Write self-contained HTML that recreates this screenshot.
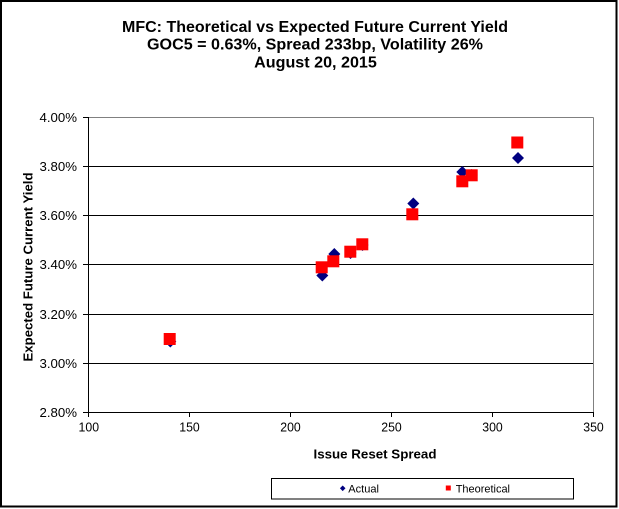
<!DOCTYPE html>
<html>
<head>
<meta charset="utf-8">
<style>
  html, body { margin: 0; padding: 0; background: #ffffff; }
  body { width: 619px; height: 509px; overflow: hidden; }
  svg { display: block; }
  text { font-family: "Liberation Sans", Arial, sans-serif; fill: #000; }
</style>
</head>
<body>
<svg width="619" height="509" viewBox="0 0 619 509" xmlns="http://www.w3.org/2000/svg">
  <rect x="0" y="0" width="619" height="509" fill="#ffffff"/>
  <!-- outer border -->
  <rect x="1" y="1" width="615.5" height="505.5" fill="none" stroke="#000" stroke-width="2"/>

  <!-- title -->
  <text x="315" y="32" font-size="16" font-weight="bold" text-anchor="middle" textLength="386" lengthAdjust="spacingAndGlyphs">MFC: Theoretical vs Expected Future Current Yield</text>
  <text x="315" y="49.5" font-size="16" font-weight="bold" text-anchor="middle" textLength="336" lengthAdjust="spacingAndGlyphs">GOC5 = 0.63%, Spread 233bp, Volatility 26%</text>
  <text x="315.5" y="67.7" font-size="16" font-weight="bold" text-anchor="middle" textLength="122.7" lengthAdjust="spacingAndGlyphs">August 20, 2015</text>

  <!-- plot area -->
  <rect x="88.5" y="117.5" width="505" height="295" fill="#ffffff"/>
  <!-- gridlines -->
  <g stroke="#000" stroke-width="1">
    <line x1="88" y1="166.5" x2="593.5" y2="166.5"/>
    <line x1="88" y1="215.5" x2="593.5" y2="215.5"/>
    <line x1="88" y1="264.5" x2="593.5" y2="264.5"/>
    <line x1="88" y1="314.5" x2="593.5" y2="314.5"/>
    <line x1="88" y1="363.5" x2="593.5" y2="363.5"/>
  </g>
  <!-- plot border top/right gray -->
  <line x1="88" y1="117.5" x2="593.5" y2="117.5" stroke="#808080" stroke-width="1"/>
  <line x1="593.5" y1="117.5" x2="593.5" y2="412.5" stroke="#808080" stroke-width="1"/>
  <!-- axes -->
  <g stroke="#000" stroke-width="1">
    <line x1="88.5" y1="117" x2="88.5" y2="413"/>
    <line x1="88" y1="412.5" x2="594" y2="412.5"/>
    <!-- y ticks -->
    <line x1="83" y1="117.5" x2="88.5" y2="117.5"/>
    <line x1="83" y1="166.5" x2="88.5" y2="166.5"/>
    <line x1="83" y1="215.5" x2="88.5" y2="215.5"/>
    <line x1="83" y1="264.5" x2="88.5" y2="264.5"/>
    <line x1="83" y1="314.5" x2="88.5" y2="314.5"/>
    <line x1="83" y1="363.5" x2="88.5" y2="363.5"/>
    <line x1="83" y1="412.5" x2="88.5" y2="412.5"/>
    <!-- x ticks -->
    <line x1="88.5" y1="412.5" x2="88.5" y2="417"/>
    <line x1="189.5" y1="412.5" x2="189.5" y2="417"/>
    <line x1="290.5" y1="412.5" x2="290.5" y2="417"/>
    <line x1="391.5" y1="412.5" x2="391.5" y2="417"/>
    <line x1="492.5" y1="412.5" x2="492.5" y2="417"/>
    <line x1="593.5" y1="412.5" x2="593.5" y2="417"/>
  </g>

  <!-- y tick labels -->
  <g font-size="13" text-anchor="end">
    <text x="77" y="122" textLength="37.5" lengthAdjust="spacingAndGlyphs">4.00%</text>
    <text x="77" y="171" textLength="37.5" lengthAdjust="spacingAndGlyphs">3.80%</text>
    <text x="77" y="220" textLength="37.5" lengthAdjust="spacingAndGlyphs">3.60%</text>
    <text x="77" y="269" textLength="37.5" lengthAdjust="spacingAndGlyphs">3.40%</text>
    <text x="77" y="319" textLength="37.5" lengthAdjust="spacingAndGlyphs">3.20%</text>
    <text x="77" y="368" textLength="37.5" lengthAdjust="spacingAndGlyphs">3.00%</text>
    <text x="77" y="417" textLength="37.5" lengthAdjust="spacingAndGlyphs">2.80%</text>
  </g>

  <!-- x tick labels -->
  <g font-size="13" text-anchor="middle">
    <text x="88.8" y="431.7" textLength="20.5" lengthAdjust="spacingAndGlyphs">100</text>
    <text x="189.5" y="431.7" textLength="20.5" lengthAdjust="spacingAndGlyphs">150</text>
    <text x="290.5" y="431.7" textLength="20.5" lengthAdjust="spacingAndGlyphs">200</text>
    <text x="391.5" y="431.7" textLength="20.5" lengthAdjust="spacingAndGlyphs">250</text>
    <text x="492.5" y="431.7" textLength="20.5" lengthAdjust="spacingAndGlyphs">300</text>
    <text x="593.5" y="431.7" textLength="20.5" lengthAdjust="spacingAndGlyphs">350</text>
  </g>

  <!-- axis titles -->
  <text x="375" y="458.3" font-size="13" font-weight="bold" text-anchor="middle" textLength="123" lengthAdjust="spacingAndGlyphs">Issue Reset Spread</text>
  <text transform="translate(32.3,267) rotate(-90)" x="0" y="0" font-size="13" font-weight="bold" text-anchor="middle" textLength="189" lengthAdjust="spacingAndGlyphs">Expected Future Current Yield</text>

  <!-- Actual (diamonds) -->
  <g fill="#000080">
    <polygon points="170.3,335.5 176.3,341.5 170.3,347.5 164.3,341.5"/>
    <polygon points="322.3,269.5 328.3,275.5 322.3,281.5 316.3,275.5"/>
    <polygon points="334.3,248 340.3,254 334.3,260 328.3,254"/>
    <polygon points="350.5,247 356.5,253 350.5,259 344.5,253"/>
    <polygon points="362.5,239 368.5,245 362.5,251 356.5,245"/>
    <polygon points="413.3,197.5 419.3,203.5 413.3,209.5 407.3,203.5"/>
    <polygon points="462.3,166 468.3,172 462.3,178 456.3,172"/>
    <polygon points="471.7,169 477.7,175 471.7,181 465.7,175"/>
    <polygon points="518,152 524,158 518,164 512,158"/>
  </g>

  <!-- Theoretical (squares) -->
  <g fill="#ff0000">
    <rect x="163.7" y="333" width="12" height="12"/>
    <rect x="315.7" y="261.3" width="12" height="12"/>
    <rect x="327.3" y="255.3" width="12" height="12"/>
    <rect x="344.3" y="245.7" width="12" height="12"/>
    <rect x="356.3" y="238.3" width="12" height="12"/>
    <rect x="406.3" y="208.3" width="12" height="12"/>
    <rect x="456.3" y="175.3" width="12" height="12"/>
    <rect x="465.7" y="169.3" width="12" height="12"/>
    <rect x="511.3" y="136.5" width="12" height="12"/>
  </g>

  <!-- legend -->
  <rect x="271.5" y="478.5" width="302" height="20.5" fill="#ffffff" stroke="#000" stroke-width="1"/>
  <polygon points="342.7,485.5 345.5,488.3 342.7,491.1 339.9,488.3" fill="#000080"/>
  <text x="348.3" y="492.7" font-size="11" textLength="30.7" lengthAdjust="spacingAndGlyphs">Actual</text>
  <rect x="445.8" y="485.5" width="5" height="5" fill="#ff0000"/>
  <text x="455.7" y="492.7" font-size="11" textLength="54.3" lengthAdjust="spacingAndGlyphs">Theoretical</text>
</svg>
</body>
</html>
